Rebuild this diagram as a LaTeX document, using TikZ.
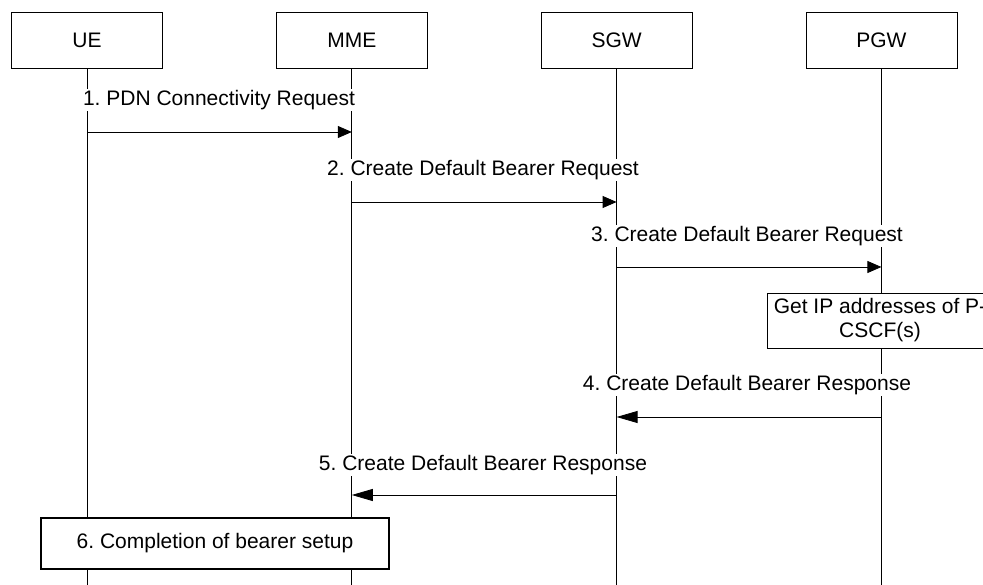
\documentclass[tikz,border=0pt]{standalone}
\usepackage{fontspec}
\setmainfont{Liberation Sans}
\usetikzlibrary{arrows.meta,positioning}
\frenchspacing

\begin{document}
\begin{tikzpicture}[x=1pt,y=-1pt,
    font=\fontsize{21}{24}\selectfont,
    entity/.style={draw,line width=0.8pt,minimum width=151pt,minimum height=56pt,inner sep=0pt},
    lifeline/.style={line width=0.8pt},
    msglabel/.style={fill=white,inner sep=1pt},
    msgright/.style={line width=0.8pt,-{Triangle[length=14pt,width=12pt]}},
    msgleft/.style={line width=0.8pt,-{Triangle[length=21pt,width=12pt]}},
    actionbox/.style={draw,fill=white,inner sep=0pt,align=center}]
      \clip (0,0) rectangle (983,585);

      % Entites
      \node[entity] (ue) at (87,40) {UE};
      \node[entity,right=113pt of ue] (mme) {MME};
      \node[entity,right=113pt of mme] (sgw) {SGW};
      \node[entity,right=113pt of sgw] (pgw) {PGW};

      % Lignes de vie
      \draw[lifeline] (ue.south) -- (ue.south |- 0,585);
      \draw[lifeline] (mme.south) -- (mme.south |- 0,585);
      \draw[lifeline] (sgw.south) -- (sgw.south |- 0,585);
      \draw[lifeline] (pgw.south) -- (pgw.south |- 0,585);

      % Message 1
      \coordinate (m1a) at (ue |- 0,132);
      \coordinate (m1b) at (mme |- 0,132);
      \node[msglabel] (l1) at (219,100) {1. PDN Connectivity Request};
      \draw[msgright] (m1a) -- (m1b);

      % Message 2
      \coordinate (m2a) at (mme |- 0,202);
      \coordinate (m2b) at (sgw |- 0,202);
      \node[msglabel] (l2) at (483,170) {2. Create Default Bearer Request};
      \draw[msgright] (m2a) -- (m2b);

      % Message 3
      \coordinate (m3a) at (sgw |- 0,267);
      \coordinate (m3b) at (pgw |- 0,267);
      \node[msglabel] (l3) at (747,236) {3. Create Default Bearer Request};
      \draw[msgright] (m3a) -- (m3b);

      % Adresses P-CSCF
      \node[actionbox,minimum width=226pt,minimum height=55pt,line width=0.8pt] (getip) at (880,320.5)
        {Get IP addresses of P-\\CSCF(s)};

      % Message 4
      \coordinate (m4a) at (pgw |- 0,417);
      \coordinate (m4b) at (sgw |- 0,417);
      \node[msglabel] (l4) at (747,385) {4. Create Default Bearer Response};
      \draw[msgleft] (m4a) -- (m4b);

      % Message 5
      \coordinate (m5a) at (sgw |- 0,495);
      \coordinate (m5b) at (mme |- 0,495);
      \node[msglabel] (l5) at (483,465) {5. Create Default Bearer Response};
      \draw[msgleft] (m5a) -- (m5b);

      % Fin
      \node[actionbox,minimum width=348pt,minimum height=51pt,line width=1.4pt] (done) at (215,543.5)
        {6. Completion of bearer setup};
    \end{tikzpicture}
\end{document}
